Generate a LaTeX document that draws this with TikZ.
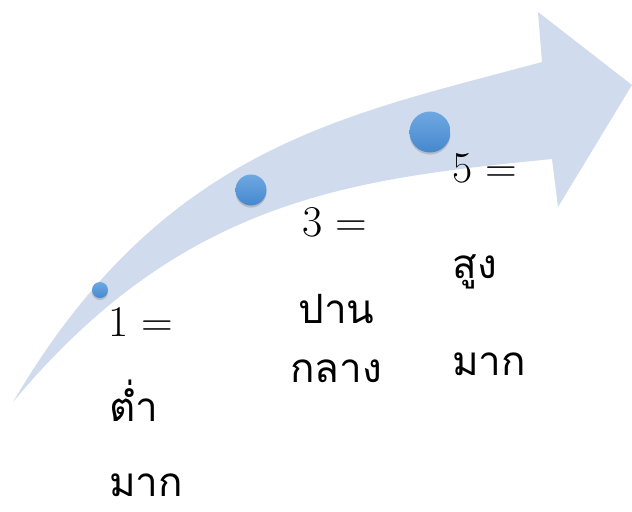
\documentclass[tikz,border=0pt]{standalone}
\usepackage{fontspec}
\newfontfamily\thaifont[Script=Thai]{Loma}
\usetikzlibrary{shadows}
\definecolor{arrowfill}{RGB}{208,220,238}
\definecolor{dottop}{RGB}{110,168,226}
\definecolor{dotbot}{RGB}{70,136,206}
\tikzset{
  dot/.style={circle, inner sep=0pt, top color=dottop, bottom color=dotbot, draw=none,
    drop shadow={opacity=0.35, shadow xshift=0pt, shadow yshift=-1.2pt}},
  num/.style={anchor=base west, inner sep=0pt, font=\fontsize{25}{30}\selectfont},
  thai/.style={anchor=base west, inner sep=0pt, text depth=0pt, font=\thaifont\fontsize{23}{28}\selectfont}
}
\begin{document}
\begin{tikzpicture}[x=0.02cm, y=-0.02cm]
\useasboundingbox (0,0) rectangle (632,511);
% curved arrow
\fill[arrowfill] (13,402) .. controls (163,147) and (342,116) .. (542,62)
  -- (538,12) -- (632,85) -- (558,207) -- (552,159)
  .. controls (352,179) and (183,198) .. cycle;
% dots
\node[dot, minimum size=16*0.02cm] (a) at (100,290) {};
\node[dot, minimum size=31*0.02cm] (b) at (251,190) {};
\node[dot, minimum size=41*0.02cm] (c) at (430,132) {};
% labels
\node[num] (a1) at (108,336) {1 =};
\node[thai] (a2) at (109,421) {ต่ำ};
\node[thai] (a3) at (109,496) {มาก};
\node[num] (b1) at (302,236) {3 =};
\node[thai] (b2) at (298,323) {ปาน};
\node[thai] (b3) at (290,382) {กลาง};
\node[num] (c1) at (452,182) {5 =};
\node[thai] (c2) at (452,278) {สูง};
\node[thai] (c3) at (452,375) {มาก};
\end{tikzpicture}
\end{document}
